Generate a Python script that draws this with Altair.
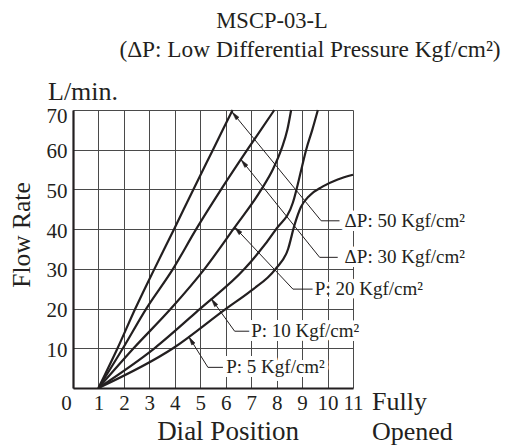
import math
import altair as alt
import pandas as pd

# ---------------- data ----------------
x_ticks = list(range(0, 12))
y_ticks = [10, 20, 30, 40, 50, 60, 70]

curve_names = ["ΔP: 50", "ΔP: 30", "P: 20", "P: 10", "P: 5"]
dp50_x = [1, 1.75, 2.45, 3.2, 3.97, 4.73, 5.5, 6.27]
dp50_y = [0, 10, 20, 30, 40, 50, 60, 70]
dp30_x = [1, 1.96, 2.88, 3.93, 4.84, 5.82, 6.85, 7.91]
dp30_y = [0, 10, 20, 30, 40, 50, 60, 70]
p20_x = [1, 2.38, 3.85, 5.17, 6.3, 7.4, 7.85, 8.18, 8.42, 8.57]
p20_y = [0, 10, 20, 30, 40, 50, 55, 60, 65, 70]
p10_x = [1, 3.2, 5.0, 6.74, 7.98, 8.64, 8.97, 9.16, 9.4, 9.62]
p10_y = [0, 10, 20, 30, 40, 46.7, 55, 60, 65, 70]
p5_x = [1, 3.93, 6.02, 7.0, 7.96, 8.45, 8.7, 8.95, 9.3, 9.8, 10.4, 11]
p5_y = [0, 10, 20, 24.5, 30, 35, 41, 45.5, 48.5, 50.7, 52.5, 53.7]

label_texts = ["ΔP: 50 Kgf/cm²", "ΔP: 30 Kgf/cm²", "P: 20 Kgf/cm²",
               "P: 10 Kgf/cm²", "P: 5 Kgf/cm²"]
tip_x = [6.25, 6.6, 6.35, 5.43, 4.55]
tip_y = [69.5, 57.5, 40.5, 22.5, 12.9]
elbow_x = [9.75, 9.69, 8.64, 6.35, 5.3]
elbow_y = [42.1, 32.9, 24.9, 14.3, 5.2]
end_x = [10.47, 10.4, 9.42, 6.94, 5.89]
text_x = [10.67, 10.67, 9.5, 7.0, 6.02]

# ---------------- layout / style ----------------
W, H = 280, 278
FONT = "Liberation Serif"
INK = "#231f20"
GRID = "#4a4a4a"
sx, sy = W / 11.0, H / 70.0

curves = pd.concat([
    pd.DataFrame({"curve": n, "x": xs, "y": ys, "i": range(len(xs))})
    for n, xs, ys in zip(curve_names,
                         [dp50_x, dp30_x, p20_x, p10_x, p5_x],
                         [dp50_y, dp30_y, p20_y, p10_y, p5_y])
])

leader_rows = []
for k, lab in enumerate(label_texts):
    leader_rows += [
        {"lab": lab, "o": 0, "x": tip_x[k], "y": tip_y[k]},
        {"lab": lab, "o": 1, "x": elbow_x[k], "y": elbow_y[k]},
        {"lab": lab, "o": 2, "x": end_x[k], "y": elbow_y[k]},
    ]
leaders = pd.DataFrame(leader_rows)

arrows = pd.DataFrame({
    "x": tip_x, "y": tip_y,
    "ang": [
        (math.degrees(math.atan2(-(ex - tx) * sx, (ty - ey) * sy)) + 360) % 360
        for tx, ty, ex, ey in zip(tip_x, tip_y, elbow_x, elbow_y)
    ],
})

labels = pd.DataFrame({"x": text_x, "y": elbow_y, "t": label_texts})

xs = alt.Scale(domain=[0, 11], nice=False, zero=False)
ys = alt.Scale(domain=[0, 70], nice=False)

x_axis = alt.Axis(
    values=x_ticks, grid=True, gridColor=GRID, gridWidth=1,
    domainColor=INK, domainWidth=2.2, ticks=False, tickSize=0,
    labelFont=FONT, labelFontSize=21, labelColor=INK,
    labelBaseline="middle", labelPadding=15, labelFlush=False,
    labelOverlap=False,
    labelOffset={"condition": {"test": "datum.value == 0", "value": -7}, "value": 0},
    title=None,
)
y_axis = alt.Axis(
    values=y_ticks, grid=True, gridColor=GRID, gridWidth=1,
    domainColor=INK, domainWidth=2.2, ticks=False, tickSize=0,
    labelFont=FONT, labelFontSize=21, labelColor=INK,
    labelPadding=6, labelFlush=False, labelOverlap=False,
    labelOffset={"condition": {"test": "datum.value == 70", "value": 6}, "value": 2},
    title=None,
)


def X(f="x:Q"):
    return alt.X(f, scale=xs, axis=x_axis)


def Y(f="y:Q"):
    return alt.Y(f, scale=ys, axis=y_axis)


lines = alt.Chart(curves).mark_line(
    interpolate="monotone", color=INK, strokeWidth=2.2
).encode(x=X(), y=Y(), detail="curve:N", order="i:Q")

leader_lines = alt.Chart(leaders).mark_line(color=INK, strokeWidth=1).encode(
    x=X(), y=Y(), detail="lab:N", order="o:Q",
)

heads = alt.Chart(arrows).mark_point(
    shape="M0,0L0.5,2.2L-0.5,2.2Z", filled=True, fill=INK, stroke=INK,
    strokeWidth=0.5, opacity=1, size=60
).encode(x=X(), y=Y(), angle=alt.Angle("ang:Q", scale=None))

halo = alt.Chart(labels).mark_text(
    align="left", baseline="middle", font=FONT, fontSize=19,
    color="white", stroke="white", strokeWidth=8, strokeJoin="round",
).encode(x=X(), y=Y(), text="t:N")

label_text = alt.Chart(labels).mark_text(
    align="left", baseline="middle", font=FONT, fontSize=19, color=INK,
).encode(x=X(), y=Y(), text="t:N")

one = pd.DataFrame({"a": [0]})


def free_text(txt, x, y, size, align="left", angle=0):
    return alt.Chart(one).mark_text(
        text=txt, font=FONT, fontSize=size, color=INK,
        align=align, baseline="alphabetic", angle=angle,
    ).encode(x=alt.value(x), y=alt.value(y))


title = free_text("MSCP-03-L", 199, -82, 22.5, "center")
subtitle = free_text("(ΔP: Low Differential Pressure Kgf/cm²)", 237, -53, 23.3, "center")
unit = free_text("L/min.", -25, -10, 26)
fully = free_text("Fully", 299, 300, 26)
opened = free_text("Opened", 299, 330, 26)
x_title = free_text("Dial Position", 155, 330, 27, "center")
y_title = free_text("Flow Rate", -43, 125, 25.5, "center", 270)

chart = alt.layer(
    lines, leader_lines, heads, halo, label_text,
    title, subtitle, unit, fully, opened, x_title, y_title,
).properties(
    width=W, height=H,
    autosize=alt.AutoSizeParams(type="none"),
    padding={"left": 65, "top": 102, "right": 150, "bottom": 57},
).configure_view(stroke=None)

chart.save("out.html", embed_options={"renderer": "svg", "actions": False})
